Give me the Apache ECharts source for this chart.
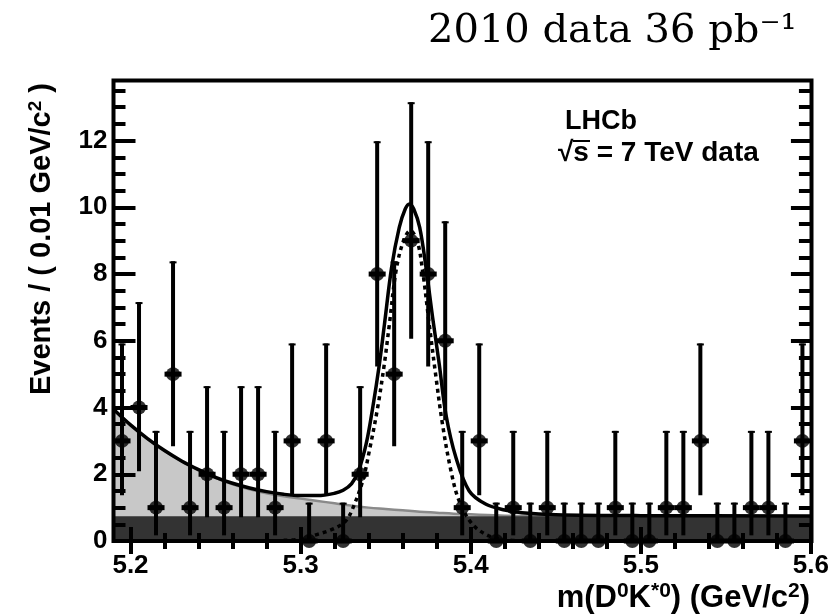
<!DOCTYPE html>
<html>
<head>
<meta charset="utf-8">
<script src="https://cdn.jsdelivr.net/npm/echarts@6/dist/echarts.min.js"></script>
<style>
html,body{margin:0;padding:0;background:#fff;}
#chart{width:832px;height:615px;}
</style>
</head>
<body>
<div id="chart"></div>
<script>
// ---- data ----
var massBins = [5.195,5.205,5.215,5.225,5.235,5.245,5.255,5.265,5.275,5.285,
                5.295,5.305,5.315,5.325,5.335,5.345,5.355,5.365,5.375,5.385,
                5.395,5.405,5.415,5.425,5.435,5.445,5.455,5.465,5.475,5.485,
                5.495,5.505,5.515,5.525,5.535,5.545,5.555,5.565,5.575,5.585,5.595];
var counts   = [3,4,1,5,1,2,1,2,2,1,
                3,0,3,0,2,8,5,9,8,6,
                1,3,0,1,0,1,0,0,0,1,
                0,0,1,1,3,0,0,1,1,0,3];
var errLow   = [1.37,2.09,0.17,2.84,0.17,0.71,0.17,0.71,0.71,0.17,
                1.37,0,1.37,0,0.71,5.23,2.84,6.06,5.23,3.62,
                0.17,1.37,0,0.17,0,0.17,0,0,0,0.17,
                0,0,0.17,0.17,1.37,0,0,0.17,0.17,0,1.37];
var errHigh  = [5.92,7.16,3.30,8.38,3.30,4.64,3.30,4.64,4.64,3.30,
                5.92,1.15,5.92,1.15,4.64,11.98,8.38,13.15,11.98,9.58,
                3.30,5.92,1.15,3.30,1.15,3.30,1.15,1.15,1.15,3.30,
                1.15,1.15,3.30,3.30,5.92,1.15,1.15,3.30,3.30,1.15,5.92];
var halfBin = 0.005;

// total fit (solid)
var totMass  = [5.19,5.20,5.21,5.22,5.23,5.24,5.25,5.26,5.27,5.28,5.29,5.30,5.31,5.32,5.325,5.33,5.334,5.3385,5.3424,5.3463,5.3493,5.3535,5.358,5.3615,5.364,5.3665,5.37,5.3737,5.3776,5.3815,5.3854,5.3913,5.3991,5.409,5.42,5.43,5.45,5.50,5.60];
var totLevel = [3.95,3.48,3.07,2.71,2.40,2.14,1.91,1.73,1.59,1.48,1.40,1.36,1.36,1.43,1.52,1.72,2.1,2.9,4.0,5.3,6.5,8.2,9.4,9.95,10.1,9.95,9.4,8.2,6.7,5.3,3.8,2.5,1.5,1.1,0.93,0.85,0.79,0.76,0.75];
// signal component (dotted)
var sigMass  = [5.29,5.30,5.31,5.32,5.3265,5.33,5.3365,5.3404,5.3453,5.3492,5.3522,5.3561,5.3605,5.3645,5.3685,5.3717,5.3756,5.3796,5.3834,5.3884,5.3932,5.401,5.4108,5.42,5.43];
var sigLevel = [0.02,0.06,0.2,0.38,0.6,0.9,1.8,2.7,4.0,5.3,6.5,8.1,9.0,9.3,9.0,8.1,6.5,4.9,3.5,2.1,1.2,0.5,0.15,0.04,0.0];
// partially reconstructed + flat background (light grey top)
var bkgMass  = [5.19,5.20,5.21,5.22,5.23,5.24,5.25,5.26,5.27,5.28,5.29,5.30,5.31,5.32,5.33,5.34,5.35,5.36,5.37,5.38,5.39,5.40,5.41,5.42,5.44,5.50,5.60];
var bkgLevel = [3.95,3.48,3.06,2.70,2.39,2.12,1.89,1.70,1.55,1.43,1.34,1.27,1.20,1.13,1.06,1.00,0.96,0.92,0.88,0.85,0.82,0.80,0.78,0.76,0.75,0.745,0.74];
// flat combinatorial background (dark grey)
var combMass  = [5.19,5.60];
var combLevel = [0.74,0.74];

// ticks
var xTickLabels = [5.2,5.3,5.4,5.5,5.6];
var xMinorTicks = [5.22,5.24,5.26,5.28,5.32,5.34,5.36,5.38,5.42,5.44,5.46,5.48,5.52,5.54,5.56,5.58];
var yTickLabels = [0,2,4,6,8,10,12];
var yMinorTicks = [0.5,1,1.5,2.5,3,3.5,4.5,5,5.5,6.5,7,7.5,8.5,9,9.5,10.5,11,11.5,12.5,13,13.5];

function zip(a,b){ return a.map(function(v,i){ return [v,b[i]]; }); }

var FONT = "'Liberation Sans', Arial, sans-serif";
var G = {left:113.5, top:80.5, width:698, height:460.5};

function tickAxis(kind, pos, values, len, labels){
  var ax = {
    type:'value', gridIndex:0, position:pos, z:10,
    axisLine:{show:false}, splitLine:{show:false},
    axisTick:{show:true, inside:true, length:len, customValues:values,
              lineStyle:{color:'#000', width:4}},
    axisLabel:{show:false}
  };
  if (kind==='x'){ ax.min=5.19; ax.max=5.6; } else { ax.min=0; ax.max=13.8; }
  if (labels){
    ax.axisLabel = {show:true, customValues:values, fontFamily:FONT, fontWeight:'bold',
      fontSize:26, color:'#000', margin: kind==='x'?12:6,
      formatter: kind==='x' ? function(v){return v.toFixed(1);} : function(v){return String(Math.round(v));}};
  }
  return ax;
}

var chart = echarts.init(document.getElementById('chart'), null, {renderer:'canvas'});
chart.setOption({
  animation:false,
  backgroundColor:'#fff',
  grid:{left:G.left, top:G.top, width:G.width, height:G.height, show:false, containLabel:false},
  xAxis:[
    tickAxis('x','bottom',xTickLabels,14,true),
    tickAxis('x','bottom',xMinorTicks,8,false),
    tickAxis('x','top',xTickLabels,13,false),
    tickAxis('x','top',xMinorTicks,8,false)
  ],
  yAxis:[
    tickAxis('y','left',yTickLabels,22,true),
    tickAxis('y','left',yMinorTicks,12,false),
    tickAxis('y','right',yTickLabels,20,false),
    tickAxis('y','right',yMinorTicks,12,false)
  ],
  series:[
    {type:'line', name:'bkg', data:zip(bkgMass,bkgLevel), smooth:0.4, symbol:'none', z:1,
     lineStyle:{color:'#8a8a8a', width:2.5}, areaStyle:{color:'#c8c8c8', opacity:1}},
    {type:'line', name:'comb', data:zip(combMass,combLevel), symbol:'none', z:2,
     lineStyle:{width:0}, areaStyle:{color:'#333333', opacity:1}},
    {type:'line', name:'total', data:zip(totMass,totLevel), smooth:0.35, symbol:'none', z:3,
     lineStyle:{color:'#000', width:3.5}},
    {type:'line', name:'signal', data:zip(sigMass,sigLevel), smooth:0.35, symbol:'none', z:3,
     lineStyle:{color:'#000', width:3.5, type:[4,4]}},
    {type:'custom', name:'err', z:4, clip:false,
     data: massBins.map(function(m,i){ return [m, errLow[i], errHigh[i], counts[i]]; }),
     renderItem:function(params, api){
       var x=api.value(0), lo=api.value(1), hi=api.value(2), y=api.value(3);
       var pT=api.coord([x,hi]), pB=api.coord([x,lo]);
       var pL=api.coord([x-halfBin,y]), pR=api.coord([x+halfBin,y]);
       var st={stroke:'#000', lineWidth:4};
       return {type:'group', children:[
         {type:'line', shape:{x1:pT[0],y1:pT[1],x2:pB[0],y2:pB[1]}, style:st},
         {type:'line', shape:{x1:pL[0],y1:pL[1],x2:pR[0],y2:pR[1]}, style:{stroke:'#000', lineWidth:5}},
         {type:'line', shape:{x1:pT[0]-3.5,y1:pT[1]+1,x2:pT[0]+3.5,y2:pT[1]+1}, style:{stroke:'#000',lineWidth:2}}
       ]};
     }},
    {type:'scatter', name:'data', data:zip(massBins,counts), symbol:'circle', symbolSize:14, z:5,
     itemStyle:{color:'#000'}}
  ],
  graphic:[
    {type:'rect', z:100, shape:{x:G.left, y:G.top, width:G.width, height:G.height},
     style:{fill:null, stroke:'#000', lineWidth:4}},
    {type:'text', z:100, x:428, y:32,
     style:{text:'2010 data 36 pb\u207B\u00B9', fontFamily:"'DejaVu Serif', serif", fontSize:40,
            fill:'#000', align:'left', verticalAlign:'middle'}},
    {type:'text', z:100, x:565, y:122,
     style:{text:'LHCb', fontFamily:FONT, fontWeight:'bold', fontSize:27, fill:'#000',
            align:'left', verticalAlign:'middle'}},
    {type:'text', z:100, x:558, y:153,
     style:{text:'\u221As = 7 TeV data', fontFamily:FONT, fontWeight:'bold', fontSize:28, fill:'#000',
            align:'left', verticalAlign:'middle'}},
    {type:'line', z:100, shape:{x1:573, y1:141, x2:590, y2:141}, style:{stroke:'#000', lineWidth:2}},
    {type:'text', z:100, x:810, y:598,
     style:{text:'{b|m(D}{s|0}{b|K}{s|*0}{b|) (GeV/c}{s|2}{b|)}', align:'right', verticalAlign:'middle',
       rich:{b:{fontFamily:FONT, fontWeight:'bold', fontSize:31, fill:'#000', lineHeight:34},
             s:{fontFamily:FONT, fontWeight:'bold', fontSize:21, fill:'#000', verticalAlign:'top'}}}},
    {type:'text', z:100, x:42, y:83, rotation:Math.PI/2,
     style:{text:'{b|Events / ( 0.01 GeV/c}{s|2}{b| )}', align:'right', verticalAlign:'middle',
       rich:{b:{fontFamily:FONT, fontWeight:'bold', fontSize:29, fill:'#000', lineHeight:32},
             s:{fontFamily:FONT, fontWeight:'bold', fontSize:19, fill:'#000', verticalAlign:'top'}}}}
  ]
});
</script>
</body>
</html>
